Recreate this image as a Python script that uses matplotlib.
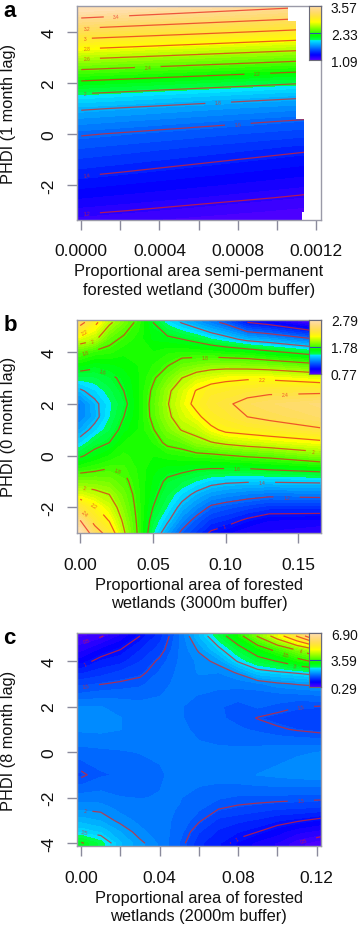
import colorsys

import numpy as np
import matplotlib
matplotlib.use("Agg")
import matplotlib.pyplot as plt
from matplotlib.colors import ListedColormap
from matplotlib.patches import Polygon

plt.rcParams['font.family'] = ['Liberation Sans', 'DejaVu Sans']
plt.rcParams['axes.unicode_minus'] = False

W, H = 358.0, 928.0

# panel a: prediction surface, two columns are enough since it is nearly planar
a_x = [0.0, 0.0012]
a_y = [-3.5, -3, -2.5, -2, -1.5, -1, -0.5, 0, 0.5, 1, 1.5, 2, 2.5, 3, 3.5, 4, 4.5, 5, 5.5]
a_left = [1.15, 1.22, 1.29, 1.355, 1.42, 1.48, 1.545, 1.61, 1.71, 1.815, 1.97, 2.165, 2.39, 2.63, 2.885, 3.13, 3.38, 3.62, 3.87]
a_right = [1.06, 1.12, 1.18, 1.24, 1.30, 1.36, 1.42, 1.50, 1.58, 1.69, 1.82, 2.00, 2.22, 2.46, 2.70, 2.95, 3.18, 3.41, 3.64]
a_levels = [1.2, 1.4, 1.6, 1.8, 2.0, 2.2, 2.4, 2.6, 2.8, 3.0, 3.2, 3.4]
a_range = [1.09, 3.57]
a_legend = ['1.09', '2.33', '3.57']
# edge of the white no-data area
a_edge = [(-0.001, 5.5), (0.001057, 5.5), (0.001057, 4.44), (0.0011, 4.44), (0.0011, 0.59),
          (0.00114, 0.59), (0.00114, -3.07), (0.00113, -3.07), (0.00113, -3.5), (-0.001, -3.5)]

# panel b: one list per x column, bottom row first
b_x = [0.0, 0.01, 0.02, 0.03, 0.04, 0.05, 0.06, 0.07, 0.08, 0.09, 0.10, 0.115, 0.13, 0.165]
b_y = [-3, -2.5, -2, -1.5, -1, -0.5, 0, 0.5, 1, 1.5, 2, 2.5, 3, 3.5, 4, 4.5, 5.15]
b_cols = [
    [2.79, 2.60, 2.35, 2.11, 1.91, 1.74, 1.58, 1.45, 1.34, 1.26, 1.25, 1.38, 1.52, 1.67, 1.83, 2.10, 2.47],
    [2.50, 2.33, 2.22, 2.05, 1.91, 1.77, 1.65, 1.55, 1.44, 1.36, 1.37, 1.45, 1.53, 1.63, 1.77, 2.03, 2.25],
    [2.32, 2.19, 2.09, 2.00, 1.89, 1.80, 1.70, 1.60, 1.53, 1.49, 1.48, 1.52, 1.57, 1.65, 1.75, 1.85, 2.03],
    [2.02, 1.97, 1.92, 1.88, 1.83, 1.79, 1.75, 1.70, 1.64, 1.60, 1.57, 1.60, 1.63, 1.67, 1.71, 1.77, 1.90],
    [1.78, 1.77, 1.76, 1.75, 1.74, 1.73, 1.72, 1.71, 1.70, 1.69, 1.69, 1.69, 1.69, 1.70, 1.71, 1.72, 1.76],
    [1.50, 1.55, 1.60, 1.63, 1.65, 1.67, 1.70, 1.74, 1.79, 1.83, 1.84, 1.82, 1.78, 1.74, 1.70, 1.65, 1.60],
    [1.32, 1.42, 1.49, 1.54, 1.58, 1.64, 1.72, 1.83, 1.91, 1.97, 1.99, 1.97, 1.89, 1.79, 1.73, 1.63, 1.47],
    [1.17, 1.27, 1.36, 1.45, 1.54, 1.63, 1.74, 1.86, 2.01, 2.08, 2.12, 2.09, 2.00, 1.87, 1.74, 1.60, 1.39],
    [1.08, 1.16, 1.27, 1.37, 1.49, 1.61, 1.76, 1.95, 2.05, 2.16, 2.25, 2.21, 2.08, 1.90, 1.73, 1.56, 1.32],
    [0.98, 1.08, 1.18, 1.31, 1.44, 1.60, 1.77, 1.99, 2.16, 2.28, 2.33, 2.29, 2.12, 1.93, 1.72, 1.50, 1.24],
    [0.94, 1.05, 1.15, 1.28, 1.42, 1.60, 1.79, 2.03, 2.24, 2.32, 2.37, 2.30, 2.16, 1.93, 1.70, 1.45, 1.17],
    [0.88, 0.98, 1.11, 1.25, 1.41, 1.60, 1.82, 2.07, 2.27, 2.40, 2.46, 2.33, 2.18, 1.92, 1.68, 1.36, 1.00],
    [0.88, 0.93, 1.07, 1.23, 1.41, 1.62, 1.84, 2.10, 2.30, 2.44, 2.50, 2.36, 2.17, 1.90, 1.63, 1.32, 0.95],
    [0.85, 0.92, 1.07, 1.24, 1.42, 1.66, 1.93, 2.16, 2.38, 2.51, 2.56, 2.36, 2.11, 1.83, 1.52, 1.19, 0.77],
]
b_levels = [1.0, 1.2, 1.4, 1.6, 1.8, 2.0, 2.2, 2.4, 2.6]
b_range = [0.77, 2.79]
b_legend = ['0.77', '1.78', '2.79']

# panel c
c_x = [0.0, 0.01, 0.02, 0.03, 0.04, 0.05, 0.06, 0.07, 0.08, 0.09, 0.10, 0.11, 0.122]
c_y = [-4, -3.5, -3, -2.5, -2, -1, 0, 1, 1.5, 2, 2.5, 3, 3.5, 4, 4.5, 5.1]
c_cols = [
    [3.04, 2.50, 2.21, 1.98, 1.81, 1.46, 1.69, 1.90, 1.94, 1.88, 1.65, 1.44, 1.19, 0.87, 0.63, 0.40],
    [2.75, 2.38, 2.13, 1.95, 1.81, 1.59, 1.71, 1.91, 1.93, 1.88, 1.69, 1.49, 1.28, 1.10, 0.83, 0.47],
    [2.29, 2.14, 1.94, 1.84, 1.75, 1.63, 1.73, 1.88, 1.88, 1.83, 1.70, 1.53, 1.38, 1.16, 1.00, 0.70],
    [2.05, 1.91, 1.84, 1.79, 1.74, 1.66, 1.75, 1.83, 1.81, 1.79, 1.70, 1.58, 1.44, 1.34, 1.21, 1.00],
    [1.85, 1.81, 1.79, 1.76, 1.75, 1.73, 1.76, 1.80, 1.79, 1.78, 1.74, 1.70, 1.63, 1.54, 1.41, 1.28],
    [1.61, 1.68, 1.71, 1.74, 1.75, 1.78, 1.78, 1.78, 1.76, 1.76, 1.78, 1.78, 1.78, 1.76, 1.75, 1.73],
    [1.25, 1.36, 1.53, 1.63, 1.70, 1.79, 1.78, 1.71, 1.69, 1.68, 1.74, 1.83, 1.89, 1.91, 2.03, 2.27],
    [1.10, 1.19, 1.31, 1.50, 1.63, 1.81, 1.78, 1.66, 1.63, 1.63, 1.71, 1.78, 1.88, 2.07, 2.42, 2.79],
    [0.93, 1.09, 1.25, 1.45, 1.59, 1.84, 1.78, 1.63, 1.58, 1.56, 1.68, 1.79, 2.03, 2.54, 2.83, 3.33],
    [0.77, 1.00, 1.19, 1.40, 1.59, 1.88, 1.80, 1.59, 1.49, 1.63, 1.66, 1.85, 2.38, 2.83, 3.25, 4.04],
    [0.67, 0.87, 1.10, 1.35, 1.58, 1.91, 1.83, 1.53, 1.43, 1.58, 1.69, 1.96, 2.46, 3.02, 3.63, 4.75],
    [0.47, 0.72, 1.03, 1.34, 1.56, 1.94, 1.86, 1.48, 1.39, 1.51, 1.71, 2.02, 2.54, 3.33, 4.04, 5.54],
    [0.33, 0.63, 0.93, 1.30, 1.55, 1.96, 1.88, 1.43, 1.35, 1.49, 1.75, 2.07, 2.67, 3.67, 4.58, 6.90],
]
c_levels = [0.5, 1.0, 1.5, 2.0, 2.5, 3.0, 3.5, 4.0, 4.5, 5.0, 5.5, 6.0, 6.5]
c_range = [0.29, 6.90]
c_legend = ['0.29', '3.59', '6.90']


def topo_colors(n):
    # same recipe as R's topo.colors
    j = n // 3
    k = n // 3
    i = n - j - k
    cols = []
    for h in np.linspace(43 / 60, 31 / 60, i):
        cols.append(colorsys.hsv_to_rgb(h, 1, 1))
    for h in np.linspace(23 / 60, 11 / 60, j):
        cols.append(colorsys.hsv_to_rgb(h, 1, 1))
    for h, s in zip(np.linspace(10 / 60, 6 / 60, k), np.linspace(1, 0.3, k)):
        cols.append(colorsys.hsv_to_rgb(h, s, 1))
    return ListedColormap(cols)


def px_axes(fig, left, top, right, bottom):
    return fig.add_axes([left / W, 1 - bottom / H, (right - left) / W, (bottom - top) / H])


def draw_panel(fig, box, x, y, z, levels, zrange, xlim, ylim, xticks, xlabels, yticks,
               xlabel, ylabel, letter, letter_y, legend, label_pos, clip=None):
    left, top, right, bottom = box
    ax = px_axes(fig, left, top, right, bottom)
    cmap = topo_colors(50)
    x = np.array(x)
    y = np.array(y)
    z = np.array(z)

    # fill runs on past the last grid line, up to the box
    dx = x[-1] - x[0]
    dy = y[-1] - y[0]
    xp = np.r_[x[0] - dx, x, x[-1] + dx]
    yp = np.r_[y[0] - dy, y, y[-1] + dy]
    zp = np.pad(z, 1, mode='edge')
    fill = ax.contourf(xp, yp, zp, levels=np.linspace(zrange[0], zrange[1], 51), cmap=cmap, extend='both')

    cs = ax.contour(x, y, z, levels=levels, colors='#e8201c', linewidths=0.9, alpha=0.72)
    ax.clabel(cs, fontsize=3.5, fmt='%g', manual=label_pos, inline_spacing=1)

    if clip is not None:
        patch = Polygon(clip, closed=True, transform=ax.transData)
        fill.set_clip_path(patch)
        cs.set_clip_path(patch)

    ax.set_xlim(xlim)
    ax.set_ylim(ylim)
    ax.set_xticks(xticks, xlabels)
    ax.set_yticks(yticks, [str(t) for t in yticks])
    ax.tick_params(axis='x', length=7.2, width=1.0, color='#8a8a9c', labelsize=12.5, pad=10, labelcolor='#111111')
    ax.tick_params(axis='y', length=7.2, width=1.0, color='#8a8a9c', labelsize=12.5, pad=8, labelcolor='#111111')
    for t in ax.get_yticklabels():
        t.set_rotation(90)
        t.set_verticalalignment('center')
    for s in ax.spines.values():
        s.set_color('#9a9aa8')
        s.set_linewidth(1.0)

    # labels are placed by pixel, like the rest of the layout
    mid_x = (left + right) / 2
    fig.text(mid_x / W, 1 - (bottom + 60.5) / H, xlabel, ha='center', va='center', fontsize=11.8,
             linespacing=1.3, color='#111111')
    fig.text(8.5 / W, 1 - (top + bottom) / 2 / H, ylabel, rotation=90, ha='center', va='center',
             fontsize=11.8, color='#111111')
    fig.text(3.5 / W, 1 - letter_y / H, letter, fontsize=16, fontweight='bold', va='baseline')

    # legend strip inside the top right corner
    cax = px_axes(fig, right - 12, top, right, top + 54)
    cax.imshow(np.linspace(zrange[0], zrange[1], 50)[:, None], origin='lower', aspect='auto', cmap=cmap,
               extent=[0, 1, zrange[0], zrange[1]])
    mid = (zrange[0] + zrange[1]) / 2
    cax.axhline(mid, color='#2a55a8', linewidth=0.8)
    cax.set_xticks([])
    cax.yaxis.tick_right()
    cax.set_yticks([zrange[0], mid, zrange[1]], legend)
    cax.tick_params(axis='y', length=0, pad=7.5, labelsize=9.9, labelcolor='#111111')
    for s in cax.spines.values():
        s.set_color('#6a6a78')
        s.set_linewidth(0.8)
    return ax


fig = plt.figure(figsize=(W / 100, H / 100), dpi=100)

draw_panel(fig, (77.3, 7.3, 320.5, 220.5), a_x, a_y, np.column_stack([a_left, a_right]), a_levels, a_range,
           (-0.00002, 0.001223), (-3.35, 5.0),
           [0, 0.0002, 0.0004, 0.0006, 0.0008, 0.0010, 0.0012],
           ['0.0000', '', '0.0004', '', '0.0008', '', '0.0012'], [-2, 0, 2, 4],
           'Proportional area semi-permanent\nforested wetland (3000m buffer)', 'PHDI (1 month lag)',
           'a', 17, a_legend,
           [(0.00018, 4.6), (0.00003, 4.14), (0.00002, 3.75), (0.00003, 3.33), (0.00003, 2.94), (0.00034, 2.65),
            (0.0009, 2.38), (0.00002, 1.6), (0.0007, 1.28), (0.0008, 0.46), (0.00003, -1.66), (0.00003, -3.14)],
           clip=a_edge)

draw_panel(fig, (77.3, 320.5, 320.5, 534), b_x, b_y, np.array(b_cols).T, b_levels, b_range,
           (-0.002, 0.1653), (-2.99, 5.26),
           [0, 0.05, 0.10, 0.15], ['0.00', '0.05', '0.10', '0.15'], [-2, 0, 2, 4],
           'Proportional area of forested\nwetlands (3000m buffer)', 'PHDI (0 month lag)',
           'b', 331, b_legend,
           [(0.086, 3.83), (0.125, 2.97), (0.141, 2.45), (0.016, 3.35), (0.004, 3.91), (0.0085, 4.45),
            (0.004, 4.71), (0.16, 0.15), (0.108, -0.49), (0.125, -1.0), (0.142, -1.59), (0.099, -2.71),
            (0.026, -0.49), (0.003, -1.25), (0.0096, -1.91), (0.003, -2.22)])

draw_panel(fig, (77.3, 634, 320.5, 847), c_x, c_y, np.array(c_cols).T, c_levels, c_range,
           (-0.002, 0.122), (-4.12, 5.23),
           [0, 0.02, 0.04, 0.06, 0.08, 0.10, 0.12],
           ['0.00', '', '0.04', '', '0.08', '', '0.12'], [-4, -2, 0, 2, 4],
           'Proportional area of forested\nwetlands (2000m buffer)', 'PHDI (8 month lag)',
           'c', 644, c_legend,
           [(0.0027, 2.75), (0.0024, 3.76), (0.003, 4.8), (0.002, -3.4), (0.002, -2.66), (0.112, 2.02),
            (0.112, -2.16), (0.08, -3.9), (0.113, -3.8), (0.109, 3.83), (0.104, 4.27), (0.112, 4.53)])

fig.savefig('out.png', dpi=100)
